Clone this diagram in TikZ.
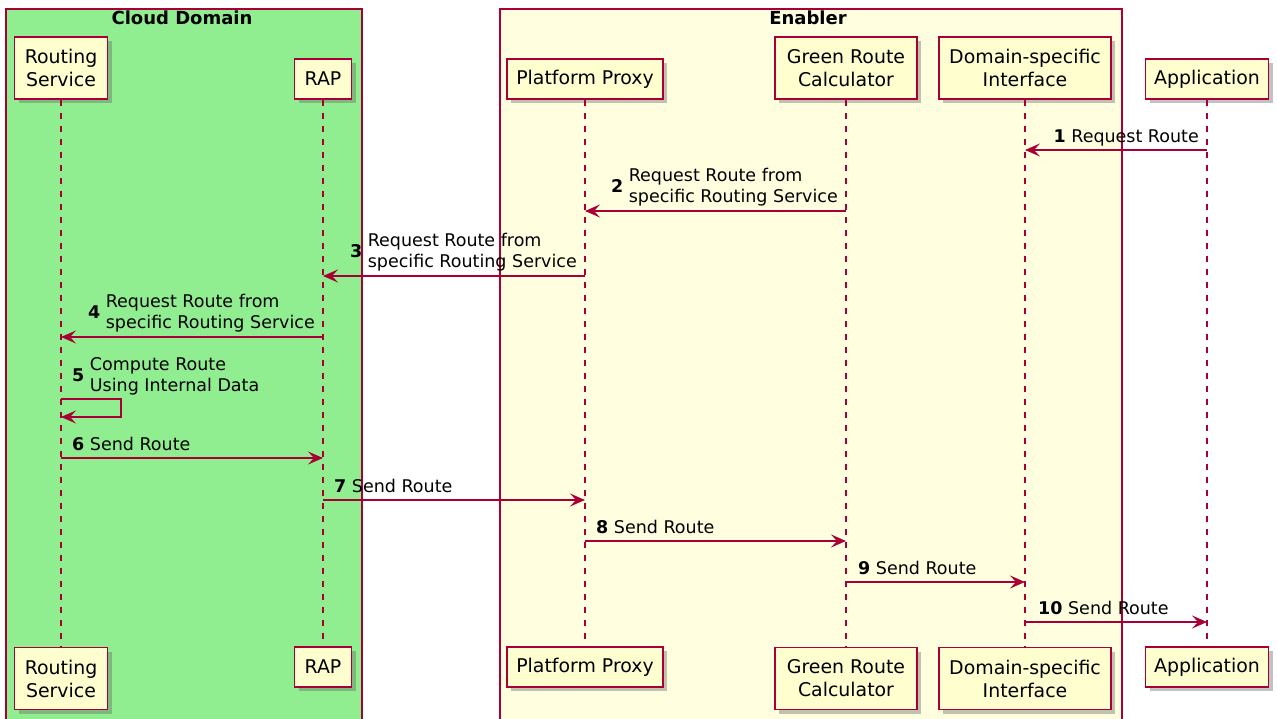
\documentclass[tikz,border=0pt]{standalone}
\usepackage{fontspec}
\setmainfont{DejaVu Sans}
\usetikzlibrary{arrows.meta,shadows}

\definecolor{umlred}{HTML}{A80036}
\definecolor{partfill}{HTML}{FEFECE}
\definecolor{cloudfill}{HTML}{90EE90}
\definecolor{enablerfill}{HTML}{FFFFE0}

\tikzset{
  grp/.style={draw=umlred, line width=1.3pt},
  grptitle/.style={anchor=base, inner sep=0pt, font=\fontsize{18}{21}\selectfont\bfseries},
  part/.style={draw=umlred, fill=partfill, line width=1.9pt, inner sep=0pt, align=center,
    font=\fontsize{18.9}{23}\selectfont,
    drop shadow={shadow xshift=4pt, shadow yshift=-4pt, fill=black!60, opacity=0.4}},
  twoline/.style={minimum height=62pt},
  oneline/.style={minimum height=40pt},
  life/.style={draw=umlred, line width=1.2pt, dash pattern=on 6.5pt off 6.5pt},
  msg/.style={draw=umlred, line width=1.4pt, -{Stealth[length=15pt,width=13pt,inset=6pt]}},
  lbl/.style={inner sep=0pt, font=\fontsize{17.5}{21}\selectfont},
}

\newcommand{\twolbl}[3]{\raisebox{10pt}{\textbf{#1}} \begin{tabular}[b]{@{}l@{}}#2\\#3\end{tabular}}

\begin{document}
\begin{tikzpicture}[x=1pt,y=-1pt]
  \useasboundingbox (0,0) rectangle (1277,719);
  \clip (0,0) rectangle (1277,719);

  % grouping boxes
  \filldraw[grp, fill=cloudfill] (6,9) rectangle (362,740);
  \filldraw[grp, fill=enablerfill] (500,9) rectangle (1122,740);
  \node[grptitle] (cloudtitle) at (182,25) {Cloud Domain};
  \node[grptitle] (enablertitle) at (808,25) {Enabler};

  % participants, top row
  \node[part, twoline, minimum width=93pt] (rsT)  at (61,68)   {Routing\\Service};
  \node[part, oneline, minimum width=57pt] (rapT) at (323,79)  {RAP};
  \node[part, oneline, minimum width=156pt] (ppT) at (585,79)  {Platform Proxy};
  \node[part, twoline, minimum width=142pt] (grcT) at (846,68) {Green Route\\Calculator};
  \node[part, twoline, minimum width=172pt] (dsiT) at (1025,68) {Domain-specific\\Interface};
  \node[part, oneline, minimum width=123pt] (appT) at (1207,79) {Application};

  % participants, bottom row
  \node[part, twoline, minimum width=93pt] (rsB)  at (61,678.5)   {Routing\\Service};
  \node[part, oneline, minimum width=57pt] (rapB) at (323,667)  {RAP};
  \node[part, oneline, minimum width=156pt] (ppB) at (585,667)  {Platform Proxy};
  \node[part, twoline, minimum width=142pt] (grcB) at (846,678.5) {Green Route\\Calculator};
  \node[part, twoline, minimum width=172pt] (dsiB) at (1025,678.5) {Domain-specific\\Interface};
  \node[part, oneline, minimum width=123pt] (appB) at (1207,667) {Application};

  % lifelines
  \draw[life] (rsT) -- (rsB);
  \draw[life] (rapT) -- (rapB);
  \draw[life] (ppT) -- (ppB);
  \draw[life] (grcT) -- (grcB);
  \draw[life] (dsiT) -- (dsiB);
  \draw[life] (appT) -- (appB);

  % messages
  \draw[msg] (appT |- 0,150) -- (dsiT |- 0,150);
  \node[lbl, anchor=base east] (l1) at (1199,142.5) {\textbf{1} Request Route};

  \draw[msg] (grcT |- 0,211) -- (ppT |- 0,211);
  \node[lbl, anchor=base east] (l2) at (838,203) {\twolbl{2}{Request Route from}{specific Routing Service}};

  \draw[msg] (ppT |- 0,276) -- (rapT |- 0,276);
  \node[lbl, anchor=base east] (l3) at (577,268) {\twolbl{3}{Request Route from}{specific Routing Service}};

  \draw[msg] (rapT |- 0,337) -- (rsT |- 0,337);
  \node[lbl, anchor=base east] (l4) at (315,329) {\twolbl{4}{Request Route from}{specific Routing Service}};

  \coordinate (selfA) at (121,399);
  \coordinate (selfB) at (121,417);
  \draw[msg] (rsT |- selfA) -- (selfA) -- (selfB) -- (rsT |- selfB);
  \node[lbl, anchor=base west] (l5) at (72,391) {\twolbl{5}{Compute Route}{Using Internal Data}};

  \draw[msg] (rsT |- 0,458) -- (rapT |- 0,458);
  \node[lbl, anchor=base west] (l6) at (72,450) {\textbf{6} Send Route};

  \draw[msg] (rapT |- 0,500) -- (ppT |- 0,500);
  \node[lbl, anchor=base west] (l7) at (334,492) {\textbf{7} Send Route};

  \draw[msg] (ppT |- 0,541) -- (grcT |- 0,541);
  \node[lbl, anchor=base west] (l8) at (596,533) {\textbf{8} Send Route};

  \draw[msg] (grcT |- 0,582) -- (dsiT |- 0,582);
  \node[lbl, anchor=base west] (l9) at (858,574) {\textbf{9} Send Route};

  \draw[msg] (dsiT |- 0,622) -- (appT |- 0,622);
  \node[lbl, anchor=base west] (l10) at (1038,614) {\textbf{10} Send Route};
\end{tikzpicture}
\end{document}
